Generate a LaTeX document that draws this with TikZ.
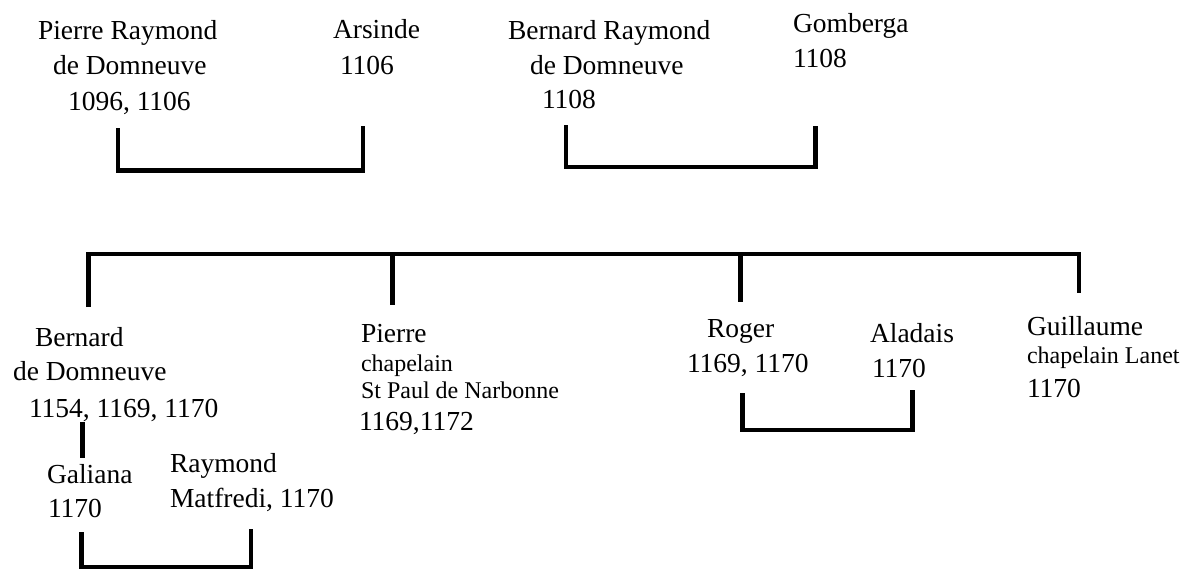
\documentclass[tikz,border=0pt]{standalone}
\usepackage{fontspec}
\setmainfont{Liberation Serif}
\begin{document}
\begin{tikzpicture}[x=1pt,y=-1pt,
  bigtxt/.style={anchor=base west,inner sep=0pt,outer sep=0pt,font=\fontsize{27.5}{33}\selectfont},
  smalltxt/.style={anchor=base west,inner sep=0pt,outer sep=0pt,font=\fontsize{24}{29}\selectfont},
  link/.style={line width=4.6pt,line join=miter,line cap=butt,draw=black}]
\useasboundingbox (0,0) rectangle (1191,570);

% first generation: two couples
\node[bigtxt] (pr1) at (38,39)  {Pierre Raymond};
\node[bigtxt] (pr2) at (53,74)  {de Domneuve};
\node[bigtxt] (pr3) at (68,110) {1096, 1106};
\node[bigtxt] (ar1) at (333,38) {Arsinde};
\node[bigtxt] (ar2) at (340,74) {1106};

\node[bigtxt] (br1) at (508,39)  {Bernard Raymond};
\node[bigtxt] (br2) at (530,74)  {de Domneuve};
\node[bigtxt] (br3) at (542,108) {1108};
\node[bigtxt] (go1) at (793,32) {Gomberga};
\node[bigtxt] (go2) at (793,67) {1108};

% second generation
\node[bigtxt] (bd1) at (35,346) {Bernard};
\node[bigtxt] (bd2) at (13,380) {de Domneuve};
\node[bigtxt] (bd3) at (29,417) {1154, 1169, 1170};

\node[bigtxt]   (pi1) at (361,342) {Pierre};
\node[smalltxt] (pi2) at (361,371) {chapelain};
\node[smalltxt] (pi3) at (361,398) {St Paul de Narbonne};
\node[bigtxt]   (pi4) at (359,430) {1169,1172};

\node[bigtxt] (ro1) at (707,337) {Roger};
\node[bigtxt] (ro2) at (687,372) {1169, 1170};
\node[bigtxt] (al1) at (870,342) {Aladais};
\node[bigtxt] (al2) at (872,377) {1170};

\node[bigtxt]   (gu1) at (1027,335) {Guillaume};
\node[smalltxt] (gu2) at (1027,363) {chapelain Lanet};
\node[bigtxt]   (gu3) at (1027,397) {1170};

% third generation
\node[bigtxt] (ga1) at (47,483) {Galiana};
\node[bigtxt] (ga2) at (48,517) {1170};
\node[bigtxt] (rm1) at (170,472) {Raymond};
\node[bigtxt] (rm2) at (170,507) {Matfredi, 1170};

% bracket end points
\coordinate (cPR) at (118,128);
\coordinate (cAR) at (363,126);
\coordinate (cBR) at (566,125);
\coordinate (cGO) at (815.5,126);
\coordinate (cBD) at (88.5,307);
\coordinate (cPI) at (392.5,305);
\coordinate (cRO) at (740.5,302);
\coordinate (cGU) at (1079,293);
\coordinate (cBDa) at (82.5,422);
\coordinate (cGAa) at (82.5,458);
\coordinate (cGA) at (81.5,532);
\coordinate (cRM) at (251,529);
\coordinate (cROb) at (742.5,393);
\coordinate (cAL) at (912.5,390);

% marriages
\draw[link] (cPR) -- (cPR |- 0,170.5) -- (cAR |- 0,170.5) -- (cAR);
\draw[link] (cBR) -- (cBR |- 0,167) -- (cGO |- 0,167) -- (cGO);
\draw[link] (cROb) -- (cROb |- 0,430) -- (cAL |- 0,430) -- (cAL);
\draw[link] (cGA) -- (cGA |- 0,567) -- (cRM |- 0,567) -- (cRM);

% siblings bar
\draw[link] (cBD) -- (cBD |- 0,254) -- (cGU |- 0,254) -- (cGU);
\draw[link] (cPI |- 0,254) -- (cPI);
\draw[link] (cRO |- 0,254) -- (cRO);

% descent to Galiana
\draw[link] (cBDa) -- (cGAa);
\end{tikzpicture}
\end{document}
